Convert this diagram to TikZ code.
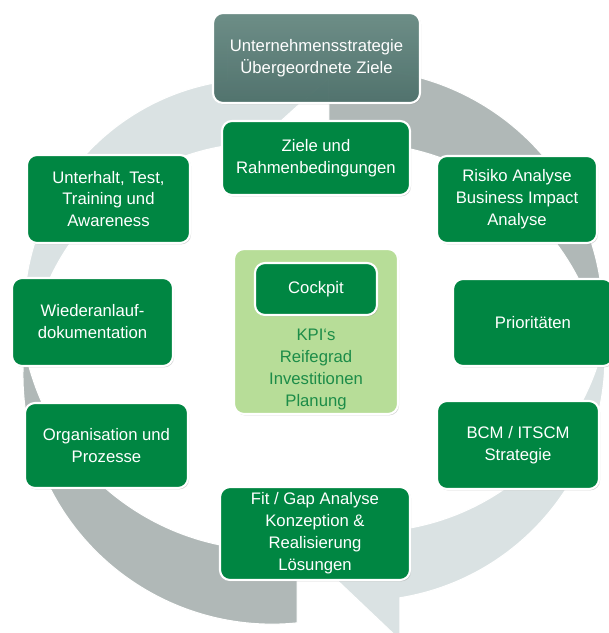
\documentclass[tikz,border=0pt]{standalone}
\usepackage{fontspec}
\setmainfont{Liberation Sans}
\usetikzlibrary{shadows}
\definecolor{boxgreen}{RGB}{0,134,66}
\definecolor{kpigreen}{RGB}{183,221,152}
\definecolor{kpitext}{RGB}{28,140,72}
\definecolor{stratgrey}{RGB}{100,122,124}
\definecolor{strattop}{RGB}{122,142,143}
\definecolor{stratbot}{RGB}{90,112,114}
\definecolor{lightband}{RGB}{218,226,227}
\definecolor{darkband}{RGB}{176,184,183}

\begin{document}
\begin{tikzpicture}[x=0.02cm,y=-0.02cm,
  stepbox/.style={draw=white,line width=1.2pt,rounded corners=0.2cm,fill=boxgreen,text=white,align=center,inner sep=0pt,
    font=\fontsize{9.5}{12.5}\selectfont,drop shadow={shadow xshift=0.6pt,shadow yshift=-0.8pt,opacity=0.35}},
  band/.style={draw=white,line width=0.6pt}]
\useasboundingbox (0,0) rectangle (609,633);

% Kreislauf (dunkle Pfeile)
\filldraw[band,fill=darkband] (24.5,347.4) arc[start angle=186.4,end angle=84.2,radius=249] -- (297,548.5) arc[start angle=83.8,end angle=169.1,radius=250] -- cycle;
\filldraw[band,fill=darkband] (601.5,345.6) arc[start angle=6.4,end angle=-95.8,radius=249] -- (329,144.5) arc[start angle=-96.2,end angle=-10.9,radius=250] -- cycle;

% Kreislauf (helle Pfeile)
\filldraw[band,fill=lightband] (28.7,359.5) arc[start angle=168.5,end angle=262.6,radius=234] -- (228,45) -- (335,72) -- (228,169) -- (228,145.5) arc[start angle=261.6,end angle=184.3,radius=234] -- cycle;
\filldraw[band,fill=lightband] (604.3,339.9) arc[start angle=-4.0,end angle=80.8,radius=244] -- (400,640) -- (300,545) -- (400,495) -- (400,529.6) arc[start angle=82.0,end angle=12.3,radius=244] -- cycle;

% Phasen
\node[stepbox,top color=strattop,bottom color=stratbot,fill opacity=0.88,text opacity=1,minimum width=4.14cm,minimum height=1.8cm] (strat) at (316.5,58) {Unternehmensstrategie\\Übergeordnete Ziele};
\node[stepbox,minimum width=3.76cm,minimum height=1.48cm] (ziele) at (316,158) {Ziele und\\Rahmenbedingungen};
\node[stepbox,minimum width=3.2cm,minimum height=1.74cm] (risiko) at (517,199.5) {Risiko Analyse\\Business Impact\\Analyse};
\node[stepbox,minimum width=3.2cm,minimum height=1.74cm] (prio) at (533,322.5) {Prioritäten};
\node[stepbox,minimum width=3.24cm,minimum height=1.76cm] (bcm) at (518,445) {BCM / ITSCM\\Strategie};
\node[stepbox,minimum width=3.8cm,minimum height=1.86cm] (fit) at (315,533.5) {Fit / Gap Analyse\\Konzeption \&\\Realisierung\\Lösungen};
\node[stepbox,minimum width=3.26cm,minimum height=1.7cm] (org) at (106.5,445.5) {Organisation und\\Prozesse};
\node[stepbox,minimum width=3.22cm,minimum height=1.76cm] (wieder) at (92.5,322) {Wiederanlauf-\\dokumentation};
\node[stepbox,minimum width=3.26cm,minimum height=1.76cm] (unter) at (108.5,199) {Unterhalt, Test,\\Training und\\Awareness};

% Cockpit in der Mitte
\node[stepbox,fill=kpigreen,minimum width=3.28cm,minimum height=3.3cm] (kpi) at (316,331.5) {};
\node[stepbox,minimum width=2.44cm,minimum height=1.04cm] (cockpit) at (316,289) {Cockpit};
\node[text=kpitext,align=center,font=\fontsize{9.5}{12.5}\selectfont] (kpitxt) at (316,369.5) {KPI‘s\\Reifegrad\\Investitionen\\Planung};

\end{tikzpicture}
\end{document}
